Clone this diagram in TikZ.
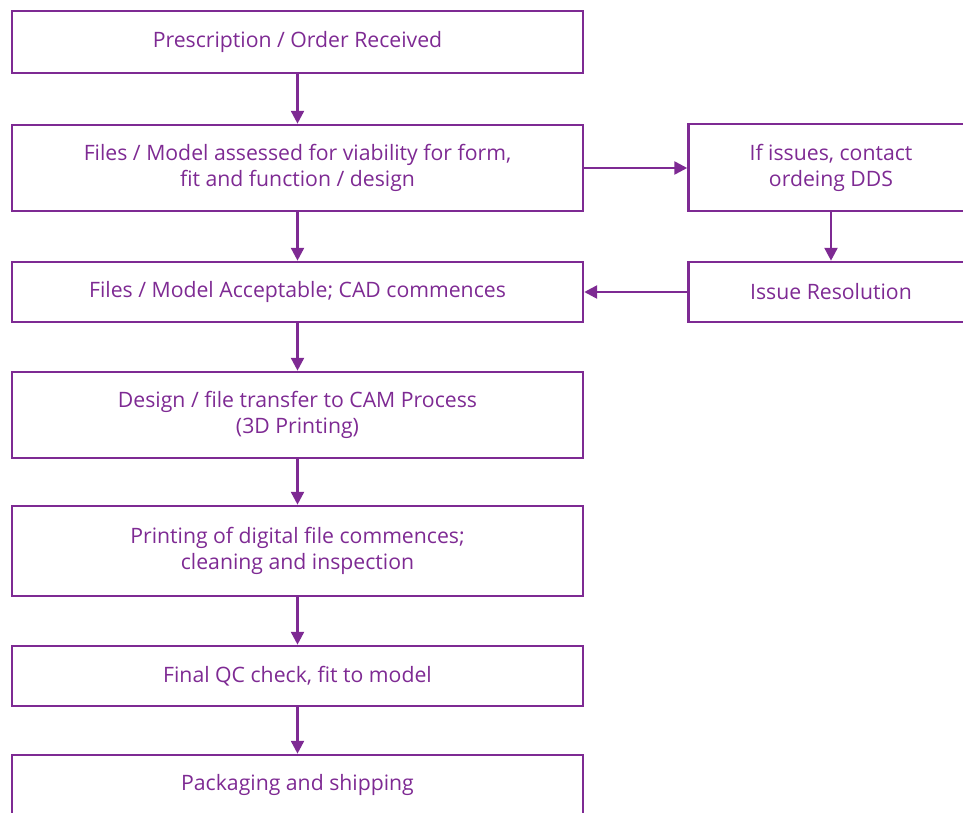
\documentclass[tikz,border=0pt]{standalone}
\usepackage{fontspec}
\setmainfont{Open Sans}
\usepackage{tikz}
\usetikzlibrary{arrows.meta,positioning}
\definecolor{plum}{HTML}{7E2A93}

\begin{document}
\begin{tikzpicture}[>={Triangle[length=13pt,width=13pt]}, line width=2.6pt,
  every node/.style={text=plum, font=\fontsize{21.3}{26}\selectfont, align=center},
  box/.style={draw=plum, minimum width=573pt, inner sep=0pt},
  sidebox/.style={draw=plum, minimum width=286pt, inner sep=0pt}]
  \useasboundingbox (0bp,0bp) rectangle (963bp,-813bp);
  % States
  \node (order) at (297.5bp, -42bp) [box, minimum height=62bp] {Prescription / Order Received};
  \node (assess) at (297.5bp, -168bp) [box, minimum height=86bp] {Files / Model assessed for viability for form,\\fit and function / design};
  \node (accept) at (297.5bp, -292bp) [box, minimum height=60bp] {Files / Model Acceptable; CAD commences};
  \node (transfer) at (297.5bp, -415bp) [box, minimum height=86bp] {Design / file transfer to CAM Process\\(3D Printing)};
  \node (printing) at (297.5bp, -551bp) [box, minimum height=90bp] {Printing of digital file commences;\\cleaning and inspection};
  \node (qc) at (297.5bp, -676bp) [box, minimum height=60bp] {Final QC check, fit to model};
  \node (ship) at (297.5bp, -785bp) [box, minimum height=60bp] {Packaging and shipping};

  \node (contact) at (831bp, -167.5bp) [sidebox, minimum height=87bp] {If issues, contact\\ordeing DDS};
  \node (resolve) at (831bp, -292bp) [sidebox, minimum height=60bp] {Issue Resolution};

  % Edges
  \draw[plum, ->] (order) to (assess);
  \draw[plum, ->] (assess) to (accept);
  \draw[plum, ->] (accept) to (transfer);
  \draw[plum, ->] (transfer) to (printing);
  \draw[plum, ->] (printing) to (qc);
  \draw[plum, ->] (qc) to (ship);

  \draw[plum, ->] (assess.east) to (assess.east -| contact.west);
  \draw[plum, ->] (contact) to (resolve);
  \draw[plum, ->] (resolve) to (accept);
\end{tikzpicture}
\end{document}
